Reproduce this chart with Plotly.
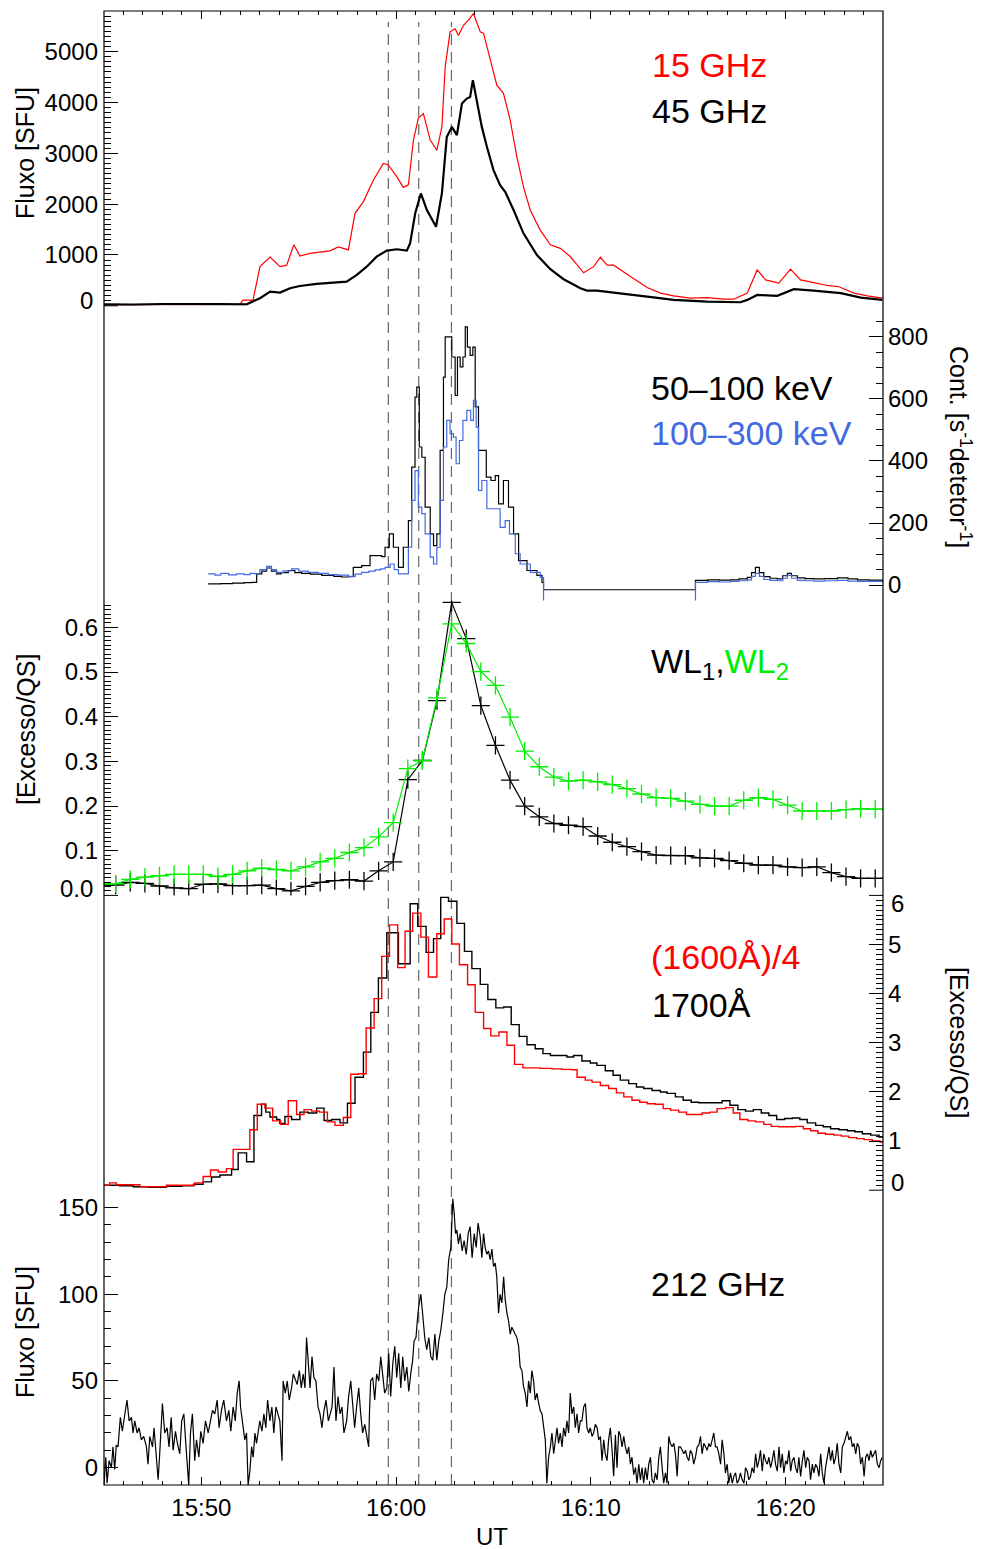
import plotly.graph_objects as go

# ---------------- data (time in minutes after 15:00 UT) ----------------
# Panel 1: 15 GHz and 45 GHz flux [SFU]
t15 = [45.0, 51.98, 52.13, 52.49, 52.65, 53.01, 53.53, 54.04, 54.38, 54.75, 55.06, 55.57, 56.09, 56.60, 57.03,
       57.55, 57.89, 58.32, 58.83, 59.34, 59.60, 60.03, 60.37, 60.63, 60.89, 61.14, 61.40, 61.75, 62.09, 62.35,
       62.52, 62.77, 63.03, 63.20, 63.46, 63.71, 63.97, 64.32, 64.49, 64.83, 65.17, 65.51, 65.86, 66.20, 66.54,
       66.89, 67.40, 67.92, 68.43, 68.94, 69.63, 70.14, 70.49, 70.83, 71.17, 72.03, 72.89, 73.57, 74.25, 75.11,
       75.97, 76.83, 77.34, 78.03, 78.54, 78.97, 79.65, 80.25, 80.77, 81.45, 82.14, 82.74, 83.51, 84.20, 84.97]
f15 = [20, 30, 110, 120, 110, 770, 960, 770, 800, 1200, 980, 1030, 1050, 1080, 1160,
       1100, 1820, 2050, 2470, 2800, 2770, 2540, 2330, 2380, 3260, 3690, 3780, 3260, 3060, 3520,
       4700, 5390, 5450, 5320, 5520, 5620, 5750, 5390, 5360, 4860, 4340, 4180, 3650, 2930, 2340,
       1880, 1490, 1200, 1130, 970, 650, 770, 955, 800, 800, 575, 360, 250, 195, 150,
       160, 130, 130, 250, 705, 510, 445, 720, 510, 455, 400, 375, 250, 195, 150]

t45 = [45.0, 46.5, 48.0, 49.5, 51.0, 52.32, 53.01, 53.53, 54.04, 54.55, 55.06, 55.92, 56.60, 57.46, 57.98,
       58.49, 59.00, 59.52, 60.03, 60.55, 60.72, 60.98, 61.27, 61.58, 62.05, 62.35, 62.60, 62.86, 63.12, 63.38,
       63.63, 63.80, 63.94, 64.15, 64.40, 64.66, 65.00, 65.34, 65.60, 66.03, 66.54, 67.23, 67.92, 68.60, 69.46,
       69.80, 70.32, 71.17, 72.03, 72.89, 74.25, 75.97, 77.68, 78.03, 78.54, 79.57, 80.42, 81.45, 82.83, 83.86, 84.97]
f45 = [30, 25, 35, 28, 32, 30, 150, 280, 260, 345, 390, 430, 455, 475, 607,
       770, 967, 1085, 1112, 1085, 1230, 1820, 2210, 1884, 1556, 2210, 3320, 3520, 3357, 3980,
       4078, 4110, 4440, 4045, 3520, 3130, 2670, 2375, 2244, 1884, 1426, 1000, 719, 523, 346,
       299, 299, 260, 214, 181, 116, 83, 70, 116, 214, 195, 326, 300, 248, 161, 116]

# Panel 2: HXR count rates [s^-1 detector^-1]
t_hxr1 = [50.35, 51.0, 51.6, 52.2, 52.58, 52.84, 53.1, 53.35, 53.6, 53.86, 54.1, 54.46, 54.8, 55.15, 55.6,
          56.18, 56.8, 57.2, 57.55, 57.80, 58.23, 58.66, 59.26, 59.43, 59.65, 59.86, 60.12, 60.37, 60.63, 60.80,
          60.97, 61.06, 61.19, 61.32, 61.49, 61.75, 61.92, 62.09, 62.26, 62.43, 62.52, 62.69, 62.86, 63.03, 63.15,
          63.29, 63.43, 63.55, 63.66, 63.80, 63.94, 64.06, 64.23, 64.40, 64.63, 64.87, 65.09, 65.26, 65.51, 65.77,
          66.03, 66.29, 66.72, 67.23, 67.49, 67.57, 75.37, 76.0, 76.6, 77.17, 77.6, 78.03, 78.25, 78.45, 78.65,
          78.88, 79.2, 79.57, 79.85, 80.09, 80.3, 80.60, 81.0, 81.45, 82.0, 82.66, 83.2, 83.69, 84.3, 84.97, 85.0]
hxr1 = [4, 5, 6, 8, 9, 36, 45, 55, 45, 36, 40, 47, 40, 38, 35,
        31, 28, 26, 27, 57, 63, 95, 92, 122, 165, 122, 57, 122, 208, 380,
        606, 638, 445, 412, 251, 165, 127, 165, 434, 670, 800, 800, 735, 611, 735,
        703, 735, 832, 767, 740, 767, 574, 434, 434, 348, 337, 353, 262, 337, 251,
        165, 79, 47, 31, 9, -15, 15, 17, 16, 17, 20, 25, 40, 57, 40,
        27, 22, 20, 30, 38, 30, 23, 21, 20, 21, 23, 20, 17, 16, 15, 15]

t_hxr2 = [50.35, 50.7, 51.0, 51.4, 51.8, 52.2, 52.5, 52.75, 53.0, 53.35, 53.6, 53.86, 54.2, 54.63, 55.0,
          55.49, 56.0, 56.52, 57.0, 57.55, 57.9, 58.23, 58.6, 58.92, 59.2, 59.43, 59.69, 59.90, 60.12, 60.37,
          60.63, 60.80, 60.97, 61.14, 61.32, 61.49, 61.75, 61.92, 62.09, 62.26, 62.43, 62.60, 62.77, 62.94, 63.08,
          63.25, 63.43, 63.63, 63.83, 63.97, 64.11, 64.23, 64.40, 64.66, 65.09, 65.34, 65.60, 65.82, 66.12, 66.37,
          66.89, 67.40, 67.57, 75.37, 76.0, 76.6, 77.17, 77.6, 78.03, 78.25, 78.45, 78.65, 78.88, 79.2, 79.57,
          79.85, 80.09, 80.3, 80.60, 81.0, 81.45, 82.0, 82.66, 83.2, 83.69, 84.3, 84.97, 85.0]
hxr2 = [36, 32, 38, 33, 36, 34, 38, 36, 50, 60, 50, 41, 46, 52, 45,
        41, 38, 34, 32, 28, 35, 41, 45, 49, 52, 57, 68, 50, 36, 36,
        122, 273, 369, 251, 230, 165, 90, 68, 122, 273, 445, 531, 488, 477, 391,
        466, 531, 563, 531, 595, 509, 305, 337, 246, 246, 186, 208, 165, 101, 68,
        41, 25, -100, 9, 11, 10, 12, 14, 17, 28, 38, 28, 18, 15, 14,
        22, 31, 22, 15, 14, 13, 14, 15, 13, 12, 12, 10, 10]

# Panel 3: white-light excess / QS
t_wl = [44.85, 45.60, 46.35, 47.10, 47.85, 48.60, 49.35, 50.10, 50.85, 51.60, 52.35, 53.10, 53.85, 54.60,
        55.35, 56.10, 56.85, 57.60, 58.35, 59.10, 59.85, 60.60, 61.35, 62.10, 62.85, 63.60, 64.35, 65.10,
        65.85, 66.60, 67.35, 68.10, 68.85, 69.60, 70.35, 71.10, 71.85, 72.60, 73.35, 74.10, 74.85, 75.60,
        76.35, 77.10, 77.85, 78.60, 79.35, 80.10, 80.85, 81.60, 82.35, 83.10, 83.85, 84.60, 85.35]
wl1 = [0.023, 0.023, 0.029, 0.027, 0.021, 0.017, 0.015, 0.025, 0.026, 0.022, 0.022, 0.023, 0.015, 0.010,
       0.020, 0.029, 0.033, 0.035, 0.032, 0.055, 0.075, 0.259, 0.302, 0.436, 0.656, 0.575, 0.425, 0.336,
       0.258, 0.200, 0.176, 0.161, 0.157, 0.154, 0.133, 0.119, 0.109, 0.098, 0.090, 0.089, 0.089, 0.084,
       0.083, 0.078, 0.072, 0.068, 0.068, 0.064, 0.062, 0.064, 0.051, 0.042, 0.038, 0.038, 0.038]
wl2 = [0.026, 0.026, 0.036, 0.041, 0.044, 0.047, 0.047, 0.047, 0.042, 0.047, 0.055, 0.061, 0.058, 0.055,
       0.064, 0.075, 0.083, 0.096, 0.107, 0.131, 0.163, 0.284, 0.302, 0.442, 0.608, 0.564, 0.501, 0.470,
       0.399, 0.323, 0.288, 0.265, 0.256, 0.258, 0.254, 0.248, 0.239, 0.227, 0.219, 0.217, 0.211, 0.204,
       0.200, 0.200, 0.213, 0.219, 0.215, 0.202, 0.189, 0.189, 0.189, 0.192, 0.194, 0.193, 0.193]

# Panel 4: UV excess / QS (1600 A divided by 4, and 1700 A)
t1700 = [45.00, 45.8, 46.5, 47.3, 48.2, 49.0, 49.6, 50.09, 50.52, 50.95, 51.55, 51.89, 52.32, 52.70, 53.09,
         53.31, 53.52, 53.86, 54.03, 54.29, 54.63, 55.06, 55.49, 55.92, 56.30, 56.69, 57.12, 57.50, 57.89, 58.32,
         58.70, 59.09, 59.52, 60.12, 60.72, 61.11, 61.54, 61.92, 62.29, 62.69, 63.12, 63.51, 63.89, 64.32, 64.71,
         65.12, 65.52, 65.91, 66.32, 66.72, 67.14, 67.54, 67.92, 68.77, 69.11, 69.54, 69.97, 70.31, 70.74, 71.14,
         71.51, 71.94, 72.34, 72.71, 73.14, 73.57, 73.91, 74.34, 74.74, 75.15, 75.54, 75.94, 76.35, 76.74, 77.14,
         77.55, 77.94, 78.34, 78.75, 79.14, 79.54, 79.95, 80.34, 80.73, 81.11, 81.54, 81.93, 82.31, 82.74, 83.17,
         83.55, 83.94, 84.37, 84.80, 85.2]
uv1700 = [0.10, 0.09, 0.07, 0.06, 0.08, 0.09, 0.12, 0.17, 0.27, 0.31, 0.42, 0.76, 0.58, 1.52, 1.75,
          1.59, 1.49, 1.44, 1.36, 1.50, 1.44, 1.59, 1.57, 1.67, 1.42, 1.44, 1.37, 1.77, 2.30, 2.81,
          3.62, 4.32, 5.24, 4.61, 5.83, 5.37, 4.84, 5.12, 5.96, 5.88, 5.43, 4.86, 4.51, 4.19, 3.88,
          3.71, 3.73, 3.37, 3.13, 2.96, 2.88, 2.78, 2.74, 2.71, 2.74, 2.63, 2.59, 2.54, 2.43, 2.34,
          2.24, 2.17, 2.10, 2.07, 2.03, 2.00, 1.97, 1.90, 1.83, 1.79, 1.78, 1.78, 1.78, 1.82, 1.73,
          1.64, 1.61, 1.64, 1.57, 1.52, 1.44, 1.46, 1.47, 1.44, 1.37, 1.32, 1.29, 1.25, 1.23, 1.21,
          1.19, 1.15, 1.12, 1.08, 1.08]

t1600 = [45.04, 45.29, 45.64, 46.84, 48.21, 49.66, 50.09, 50.47, 50.86, 51.29, 51.63, 52.49, 52.87, 53.26, 53.66,
         54.07, 54.46, 54.89, 55.27, 55.66, 56.06, 56.47, 56.86, 57.29, 57.67, 58.06, 58.46, 58.87, 59.26, 59.66,
         60.08, 60.46, 60.85, 61.27, 61.66, 62.09, 62.47, 62.86, 63.25, 63.67, 64.06, 64.49, 64.86, 65.28, 65.69,
         66.08, 66.51, 66.89, 67.40, 68.0, 68.5, 69.0, 69.29, 69.71, 70.06, 70.49, 70.91, 71.31, 71.69, 72.11,
         72.51, 72.89, 73.31, 73.71, 74.09, 74.51, 74.91, 75.28, 75.71, 76.11, 76.48, 76.91, 77.31, 77.65, 78.06,
         78.46, 78.88, 79.26, 79.65, 80.08, 80.51, 80.91, 81.28, 81.66, 82.05, 82.48, 82.86, 83.25, 83.65, 84.03,
         84.45, 84.85, 85.2]
uv1600 = [0.10, 0.15, 0.11, 0.07, 0.10, 0.15, 0.28, 0.41, 0.37, 0.44, 0.83, 1.23, 1.75, 1.67, 1.41,
          1.34, 1.82, 1.54, 1.64, 1.61, 1.59, 1.39, 1.32, 1.48, 2.36, 2.37, 3.30, 3.90, 4.76, 5.40,
          4.53, 5.27, 5.64, 5.15, 4.34, 5.22, 5.52, 5.01, 4.59, 4.18, 3.62, 3.29, 3.14, 3.22, 2.95,
          2.56, 2.49, 2.49, 2.48, 2.47, 2.46, 2.45, 2.30, 2.24, 2.20, 2.13, 2.07, 1.98, 1.90, 1.83,
          1.79, 1.76, 1.75, 1.66, 1.63, 1.59, 1.54, 1.54, 1.57, 1.59, 1.66, 1.68, 1.57, 1.44, 1.41,
          1.39, 1.34, 1.30, 1.29, 1.29, 1.30, 1.25, 1.21, 1.16, 1.14, 1.12, 1.10, 1.07, 1.05, 1.03,
          1.00, 0.98, 0.98]

# Panel 5: 212 GHz flux [SFU]
t212 = [45.00, 45.09, 45.16, 45.26, 45.38, 45.46, 45.55, 45.63, 45.72, 45.84,
        45.94, 46.06, 46.18, 46.29, 46.41, 46.49, 46.58, 46.70, 46.80, 46.92,
        47.04, 47.18, 47.26, 47.35, 47.49, 47.57, 47.69, 47.78, 47.86, 48.00,
        48.12, 48.24, 48.34, 48.45, 48.55, 48.67, 48.77, 48.89, 48.99, 49.10,
        49.20, 49.27, 49.35, 49.44, 49.54, 49.66, 49.75, 49.87, 49.97, 50.09,
        50.21, 50.35, 50.47, 50.57, 50.69, 50.81, 50.91, 51.03, 51.15, 51.29,
        51.41, 51.51, 51.63, 51.74, 51.84, 51.94, 52.01, 52.11, 52.23, 52.32,
        52.40, 52.49, 52.58, 52.66, 52.75, 52.83, 52.92, 53.00, 53.11, 53.21,
        53.31, 53.40, 53.52, 53.62, 53.72, 53.83, 53.93, 54.03, 54.14, 54.20,
        54.31, 54.41, 54.51, 54.63, 54.72, 54.84, 54.92, 55.03, 55.13, 55.23,
        55.32, 55.40, 55.49, 55.58, 55.68, 55.78, 55.88, 55.99, 56.09, 56.19,
        56.30, 56.40, 56.52, 56.60, 56.71, 56.81, 56.91, 57.02, 57.12, 57.22,
        57.32, 57.46, 57.56, 57.67, 57.77, 57.87, 57.97, 58.08, 58.18, 58.28,
        58.39, 58.49, 58.59, 58.63, 58.69, 58.80, 58.90, 59.00, 59.11, 59.21,
        59.31, 59.41, 59.52, 59.62, 59.72, 59.83, 59.93, 60.03, 60.13, 60.24,
        60.34, 60.44, 60.55, 60.65, 60.75, 60.85, 60.92, 61.02, 61.09, 61.16,
        61.27, 61.37, 61.47, 61.57, 61.68, 61.78, 61.88, 61.99, 62.09, 62.19,
        62.29, 62.40, 62.50, 62.60, 62.70, 62.81, 62.91, 62.98, 63.05, 63.12,
        63.20, 63.29, 63.39, 63.49, 63.60, 63.70, 63.80, 63.90, 64.01, 64.11,
        64.21,
        64.32, 64.40, 64.49, 64.57, 64.66, 64.74, 64.83, 64.92, 65.00, 65.09,
        65.17, 65.26, 65.34, 65.43, 65.52, 65.60, 65.69, 65.77, 65.86, 65.94,
        66.03, 66.11, 66.20, 66.29, 66.37, 66.46, 66.54, 66.63, 66.72, 66.80,
        66.89, 66.97, 67.06, 67.14, 67.23, 67.32, 67.40, 67.49, 67.57, 67.66,
        67.74, 67.83, 67.92, 68.00, 68.09, 68.17, 68.26, 68.34, 68.43, 68.52,
        68.60, 68.69, 68.77, 68.86, 68.94, 69.03, 69.12, 69.20, 69.29, 69.37,
        69.46, 69.54, 69.63, 69.72, 69.80, 69.89, 69.97, 70.06, 70.14, 70.23,
        70.32, 70.40, 70.49, 70.57, 70.66, 70.74, 70.83, 70.91, 71.00, 71.09,
        71.17, 71.26, 71.34, 71.43, 71.51, 71.60, 71.69, 71.77, 71.86, 71.94,
        72.03, 72.11, 72.20, 72.29, 72.37, 72.46, 72.54, 72.63, 72.71, 72.80,
        72.89, 72.97, 73.06, 73.14, 73.23, 73.31, 73.40, 73.49, 73.57, 73.66,
        73.74, 73.83, 73.91, 74.00, 74.08, 74.17, 74.26, 74.34, 74.43, 74.51,
        74.60, 74.69, 74.77, 74.86, 74.94, 75.03, 75.11, 75.20, 75.28, 75.37,
        75.46, 75.54, 75.63, 75.71, 75.80, 75.89, 75.97, 76.06, 76.14, 76.23,
        76.31, 76.40, 76.48, 76.57, 76.66, 76.74, 76.83, 76.91, 77.00, 77.08,
        77.17, 77.26, 77.34, 77.43, 77.51, 77.60, 77.68, 77.77, 77.86, 77.94,
        78.03, 78.11, 78.20, 78.28, 78.37, 78.46, 78.54, 78.63, 78.71, 78.80,
        78.88, 78.97, 79.06, 79.14, 79.23, 79.31, 79.40, 79.48, 79.57, 79.66,
        79.74, 79.83, 79.91, 80.00, 80.08, 80.17, 80.26, 80.34, 80.43, 80.51,
        80.60, 80.68, 80.77, 80.86, 80.94, 81.03, 81.11, 81.20, 81.28, 81.37,
        81.45, 81.54, 81.63, 81.71, 81.80, 81.88, 81.97, 82.05, 82.14, 82.23,
        82.31, 82.40, 82.48, 82.57, 82.65, 82.74, 82.83, 82.91, 83.00, 83.08,
        83.17, 83.25, 83.34, 83.43, 83.51, 83.60, 83.68, 83.77, 83.85, 83.94,
        84.03, 84.11, 84.20, 84.28, 84.37, 84.45, 84.54, 84.62, 84.71, 84.80,
        84.88, 84.97]
f212 = [-10, 6, -9, 4, 0, 12, -1, 13, 12, 29,
        21, 31, 39, 27, 29, 20, 27, 20, 23, 16,
        18, 12, 2, 18, 12, 23, 6, -7, 8, 37,
        20, 23, 12, 29, 10, 21, 14, 8, 27, 31,
        14, 4, -10, 20, 31, 4, 16, 6, 21, 14,
        27, 20, 27, 33, 31, 39, 23, 33, 39, 27,
        33, 21, 35, 27, 43, 50, 35, 27, 16, 20,
        -10, -2, 12, 6, 20, 14, 20, 27, 21, 31,
        23, 39, 27, 35, 20, 35, 31, 27, 4, 50,
        43, 50, 39, 46, 54, 50, 48, 56, 46, 54,
        46, 75, 58, 46, 64, 52, 50, 35, 31, 23,
        33, 39, 27, 31, 35, 58, 27, 41, 31, 35,
        20, 27, 41, 50, 35, 23, 35, 46, 31, 20,
        25, 18, 12, 31, 50, 52, 39, 54, 50, 64,
        54, 43, 46, 66, 41, 60, 70, 52, 66, 46,
        64, 50, 58, 44, 54, 62, 73, 75, 85, 93,
        100, 85, 75, 68, 75, 64, 62, 77, 62, 73,
        79, 89, 100, 104, 120, 127, 155, 147, 135, 137,
        129, 135, 125, 131, 123, 135, 139, 121, 135, 127,
        141,
        133, 121, 135, 127, 123, 125, 120, 126, 116, 118,
        110, 89, 100, 95, 110, 97, 89, 85, 77, 81,
        79, 77, 75, 70, 58, 56, 47, 43, 35, 50,
        43, 56, 50, 39, 43, 37, 33, 31, 23, 16,
        -9, 6, 12, 20, 8, 16, 23, 14, 20, 12,
        23, 18, 27, 20, 43, 31, 35, 23, 31, 20,
        27, 27, 35, 37, 23, 20, 23, 18, 20, 25,
        23, 16, 18, 4, 16, 8, 4, 16, 23, 10,
        -5, 19, 0, 21, 19, 12, 18, 12, 8, 12,
        2, 6, -4, 0, -9, 2, -7, 0, -9, 0,
        -7, 2, 6, -7, -9, -3, -7, 6, 12, 0,
        -9, -3, -9, 18, 14, 12, 14, 8, -5, 12,
        12, 10, 8, 10, 6, 4, 10, 8, 2, 6,
        12, 13, 18, 8, 14, 12, 10, 14, 12, 16,
        20, 12, 12, 8, 2, 16, 8, -3, 2, -9,
        -3, -9, -5, -3, -9, -7, -3, -7, -9, 0,
        -2, -7, -5, 0, -3, 8, 0, 4, 10, -2,
        8, 4, 2, 6, 0, 4, 10, 2, -2, 12,
        0, 8, -3, 4, 2, 10, -2, 4, 6, 0,
        -3, 6, -5, 4, 10, 0, 6, 4, -7, 2,
        -3, 2, 0, -5, 8, -3, -9, 0, 6, 12,
        4, 10, 2, 6, 14, 2, -3, 12, 14, 18,
        21, 16, 18, 12, 14, 8, 14, 12, 2, 6,
        -5, 6, 8, 4, 10, 6, 8, 10, 2, 0,
        4, 6]

# Times of the three reference instants (dashed lines)
t_marks = [59.60, 61.16, 62.84]

# Axis tick labels
x_tickvals = [50, 60, 70, 80]
x_ticktext = ["15:50", "16:00", "16:10", "16:20"]

# ---------------- figure ----------------
FONT = "Liberation Sans, Arial, Helvetica, sans-serif"
RED, BLUE, GREEN = "#FF0000", "#4169E1", "#00EE00"

L, R, T, B = 104, 883, 11, 1485
def pxx(x):
    return (x - L) / (R - L)
def pxy(y):
    return (B - y) / (B - T)

fig = go.Figure()

# panel 1
fig.add_trace(go.Scatter(x=t15, y=f15, xaxis="x2", yaxis="y", mode="lines",
                         line=dict(color=RED, width=1.2)))
fig.add_trace(go.Scatter(x=t45, y=f45, xaxis="x2", yaxis="y", mode="lines",
                         line=dict(color="black", width=2.2)))
# panel 2
fig.add_trace(go.Scatter(x=t_hxr1, y=hxr1, xaxis="x", yaxis="y2", mode="lines",
                         line=dict(color="black", width=1.2, shape="hv")))
fig.add_trace(go.Scatter(x=t_hxr2, y=hxr2, xaxis="x", yaxis="y2", mode="lines",
                         line=dict(color=BLUE, width=1.2, shape="hv")))
# panel 3
fig.add_trace(go.Scatter(x=t_wl, y=wl1, xaxis="x", yaxis="y3", mode="lines+markers",
                         line=dict(color="black", width=1.2),
                         marker=dict(symbol="cross-thin", size=13, line=dict(color="black", width=1.3))))
fig.add_trace(go.Scatter(x=t_wl, y=wl2, xaxis="x", yaxis="y3", mode="lines+markers",
                         line=dict(color=GREEN, width=1.2),
                         marker=dict(symbol="cross-thin", size=13, line=dict(color=GREEN, width=1.3))))
# panel 4
fig.add_trace(go.Scatter(x=t1700, y=uv1700, xaxis="x", yaxis="y4", mode="lines",
                         line=dict(color="black", width=1.4, shape="hv")))
fig.add_trace(go.Scatter(x=t1600, y=uv1600, xaxis="x", yaxis="y4", mode="lines",
                         line=dict(color=RED, width=1.4, shape="hv")))
# panel 5
fig.add_trace(go.Scatter(x=t212, y=f212, xaxis="x", yaxis="y5", mode="lines",
                         line=dict(color="black", width=1.2)))

tickfont = dict(family=FONT, size=24, color="black")
MAJ, MIN = 14, 7

def yax(domain, rng, side, tickvals, minor_dtick, anchor="x", standoff=5):
    return dict(domain=domain, range=rng, side=side, anchor=anchor,
                tickmode="array", tickvals=tickvals, ticktext=[str(v) for v in tickvals],
                ticks="inside", ticklen=MAJ, tickwidth=1, tickcolor="black",
                ticklabelstandoff=standoff,
                minor=dict(tickmode="linear", tick0=0, dtick=minor_dtick, ticks="inside",
                           ticklen=MIN, tickwidth=1, tickcolor="black", showgrid=False),
                showgrid=False, zeroline=False, showline=False, tickfont=tickfont)

xcommon = dict(range=[45, 85], domain=[0, 1], tickmode="array", tickvals=x_tickvals,
               ticks="inside", ticklen=8, tickwidth=1, tickcolor="black",
               minor=dict(tickmode="linear", tick0=45, dtick=1, ticks="inside", ticklen=4,
                          tickwidth=1, tickcolor="black", showgrid=False),
               showgrid=False, zeroline=False, showline=False, tickfont=tickfont)

fig.update_layout(
    width=981, height=1549,
    margin=dict(l=L, r=981 - R, t=T, b=1549 - B, pad=0),
    paper_bgcolor="white", plot_bgcolor="rgba(0,0,0,0)",
    showlegend=False,
    xaxis=dict(xcommon, anchor="y5", side="bottom", ticktext=x_ticktext, ticklabelstandoff=6),
    xaxis2=dict(xcommon, anchor="y", side="top", showticklabels=False),
    yaxis=yax([0.8, 1.0], [0, 5800], "left", [1000, 2000, 3000, 4000, 5000], 100, anchor="x2"),
    yaxis2=yax([0.6, 0.8], [-50, 900], "right", [0, 200, 400, 600, 800], 50, standoff=4),
    yaxis3=dict(yax([0.4, 0.6], [0, 0.66], "left", [0.1, 0.2, 0.3, 0.4, 0.5, 0.6], 0.01),
                ticktext=["0.1", "0.2", "0.3", "0.4", "0.5", "0.6"]),
    yaxis4=yax([0.2, 0.4], [0, 6], "right", [1, 2, 3, 4, 5], 0.1, standoff=4),
    yaxis5=yax([0.0, 0.2], [-10, 160], "left", [0, 50, 100, 150], 10),
)

shapes = [dict(type="rect", xref="paper", yref="paper", x0=0, x1=1, y0=0, y1=1,
               line=dict(color="black", width=1.2), fillcolor="rgba(0,0,0,0)", layer="above")]
# long edge ticks at the panel-boundary values that have no label in the axes above
for yv, side in [(pxy(1485 - 0.8 * 1474), "left"), (pxy(1485 - 0.4 * 1474), "left"),
                 (pxy(1485 - 0.2 * 1474), "right"), (pxy(1485 - 0.4 * 1474), "right")]:
    x0, x1 = (0, MAJ / (R - L)) if side == "left" else (1 - MAJ / (R - L), 1)
    shapes.append(dict(type="line", xref="paper", yref="paper", x0=x0, x1=x1, y0=yv, y1=yv,
                       line=dict(color="black", width=1)))
for tm in t_marks:
    shapes.append(dict(type="line", xref="x", yref="paper", x0=tm, x1=tm, y0=0, y1=pxy(22),
                       line=dict(color="#666666", width=1.2, dash="11px,7px"), layer="below"))
fig.update_layout(shapes=shapes)

ann = []
def label(text, x, y, color="black", size=34, xanchor="left", angle=0):
    ann.append(dict(text=text, x=pxx(x), y=pxy(y), xref="paper", yref="paper",
                    xanchor=xanchor, yanchor="middle", showarrow=False, textangle=angle,
                    font=dict(family=FONT, size=size, color=color)))

label("15 GHz", 650, 65, RED)
label("45 GHz", 650, 111)
label("50\u2013100 keV", 649, 388)
label("100\u2013300 keV", 649, 433, BLUE)
label("WL<sub>1</sub>,<span style='color:%s'>WL<sub>2</sub></span>" % GREEN, 649, 663)
label("(1600\u00c5)/4", 649, 957, RED)
label("1700\u00c5", 650, 1005)
label("212 GHz", 649, 1284)
label("Fluxo [SFU]", 25, 153, size=25, xanchor="center", angle=-90)
label("[Excesso/QS]", 26, 730, size=25, xanchor="center", angle=-90)
label("Fluxo [SFU]", 25, 1332, size=25, xanchor="center", angle=-90)
label("Cont. [s<sup>-1</sup>detetor<sup>-1</sup>]", 960, 447, size=25, xanchor="center", angle=90)
label("[Excesso/QS]", 959, 1042, size=25, xanchor="center", angle=90)
label("UT", 492, 1536, size=24, xanchor="center")
# edge tick labels (drawn slightly inside the panel as in the original)
label("0", 95, 300, size=24, xanchor="right")
label("0.0", 95, 888, size=24, xanchor="right")
label("0", 889, 1182, size=24, xanchor="left")
label("6", 889, 903, size=24, xanchor="left")
fig.update_layout(annotations=ann)

fig.write_html("out.html")
